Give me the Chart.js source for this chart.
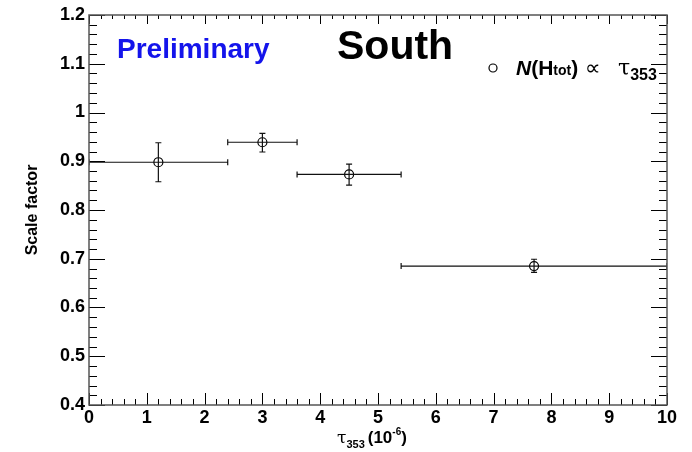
<!DOCTYPE html>
<html>
<head>
<meta charset="utf-8">
<script src="https://cdn.jsdelivr.net/npm/chart.js@4/dist/chart.umd.min.js"></script>
<style>
  html, body { margin: 0; padding: 0; background: #fff; }
  #wrap { width: 692px; height: 452px; }
</style>
</head>
<body>
<div id="wrap"><canvas id="chart" width="692" height="452"></canvas></div>
<script>
// tau_353 bins (units of 1e-6)
const binCenters = [1.2, 3.0, 4.5, 7.7];
const binLow = [0, 2.4, 3.6, 5.4];
const binHigh = [2.4, 3.6, 5.4, 10];
// scale factor with asymmetric errors
const scaleFactor = [0.898, 0.939, 0.873, 0.685];
const errUp = [0.040, 0.018, 0.021, 0.014];
const errDown = [0.040, 0.020, 0.022, 0.013];

const xTickValues = [0, 1, 2, 3, 4, 5, 6, 7, 8, 9, 10];
const yTickValues = [0.4, 0.5, 0.6, 0.7, 0.8, 0.9, 1.0, 1.1, 1.2];

const FONT = '"Liberation Sans", Arial, Helvetica, sans-serif';

// draws the ROOT-like frame with inward ticks on all four sides
const frameTicks = {
  id: 'frameTicks',
  afterDraw(chart) {
    const { ctx, chartArea: a, scales: { x, y } } = chart;
    ctx.save();
    ctx.strokeStyle = '#000';
    ctx.lineWidth = 1;
    ctx.beginPath();
    for (let i = 0; i <= 50; i++) {
      const v = i * 0.2;
      const px = Math.round(x.getPixelForValue(v)) + 0.5;
      const major = i % 5 === 0;
      ctx.moveTo(px, a.bottom); ctx.lineTo(px, a.bottom - (major ? 12 : 6));
      ctx.moveTo(px, a.top); ctx.lineTo(px, a.top + (major ? 9 : 4));
    }
    for (let i = 0; i <= 40; i++) {
      const v = 0.4 + i * 0.02;
      const py = Math.round(y.getPixelForValue(v)) + 0.5;
      const major = i % 5 === 0;
      ctx.moveTo(a.left, py); ctx.lineTo(a.left + (major ? 16 : 8), py);
      ctx.moveTo(a.right, py); ctx.lineTo(a.right - (major ? 16 : 8), py);
    }
    ctx.stroke();
    ctx.strokeStyle = '#555';
    ctx.lineWidth = 1.5;
    ctx.strokeRect(a.left, a.top, a.right - a.left, a.bottom - a.top);
    ctx.restore();
  }
};

// horizontal (bin width) and vertical (stat) error bars
const errorBars = {
  id: 'errorBars',
  afterDatasetsDraw(chart) {
    const { ctx, chartArea: a, scales: { x, y } } = chart;
    ctx.save();
    ctx.beginPath();
    ctx.rect(a.left, a.top, a.right - a.left, a.bottom - a.top);
    ctx.clip();
    ctx.strokeStyle = '#111';
    ctx.lineWidth = 1.2;
    binCenters.forEach((c, i) => {
      const py = y.getPixelForValue(scaleFactor[i]);
      const pxC = x.getPixelForValue(c);
      const pxL = x.getPixelForValue(binLow[i]);
      const pxR = x.getPixelForValue(binHigh[i]);
      const pyT = y.getPixelForValue(scaleFactor[i] + errUp[i]);
      const pyB = y.getPixelForValue(scaleFactor[i] - errDown[i]);
      ctx.beginPath();
      ctx.moveTo(pxL, py); ctx.lineTo(pxR, py);
      ctx.moveTo(pxL, py - 3); ctx.lineTo(pxL, py + 3);
      ctx.moveTo(pxR, py - 3); ctx.lineTo(pxR, py + 3);
      ctx.moveTo(pxC, pyT); ctx.lineTo(pxC, pyB);
      ctx.moveTo(pxC - 3, pyT); ctx.lineTo(pxC + 3, pyT);
      ctx.moveTo(pxC - 3, pyB); ctx.lineTo(pxC + 3, pyB);
      ctx.stroke();
    });
    ctx.restore();
  }
};

// titles, legend and axis labels with sub/superscripts
const labels = {
  id: 'labels',
  afterDraw(chart) {
    const { ctx, chartArea: a } = chart;
    ctx.save();
    ctx.textBaseline = 'alphabetic';
    ctx.textAlign = 'left';

    ctx.fillStyle = '#1414eb';
    ctx.font = `bold 28px ${FONT}`;
    ctx.fillText('Preliminary', 117, 58);

    ctx.fillStyle = '#000';
    ctx.font = `bold 41px ${FONT}`;
    ctx.fillText('South', 337, 59);

    // legend
    ctx.lineWidth = 1.2;
    ctx.strokeStyle = '#000';
    ctx.beginPath();
    ctx.arc(493, 68, 4, 0, Math.PI * 2);
    ctx.stroke();
    let tx = 516;
    const base = 75;
    const put = (t, font, dy = 0) => {
      ctx.font = font;
      ctx.fillText(t, tx, base + dy);
      tx += ctx.measureText(t).width;
    };
    put('N', `italic bold 21px ${FONT}`);
    put('(H', `bold 21px ${FONT}`);
    put('tot', `bold 14px ${FONT}`);
    put(')', `bold 21px ${FONT}`);
    tx = 585;
    put('\u221D', `22px "DejaVu Sans", ${FONT}`);
    tx = 618;
    put('\u03C4', `22px "DejaVu Serif", serif`);
    put('353', `bold 16px ${FONT}`, 5);

    // x axis title
    tx = 337;
    const xb = 443;
    const putX = (t, font, dy = 0) => {
      ctx.font = font;
      ctx.fillText(t, tx, xb + dy);
      tx += ctx.measureText(t).width;
    };
    putX('\u03C4', `17px "DejaVu Serif", serif`);
    putX('353', `bold 11px ${FONT}`, 5);
    tx += 3;
    putX('(10', `bold 17px ${FONT}`);
    putX('-6', `bold 10px ${FONT}`, -8);
    putX(')', `bold 17px ${FONT}`);

    // y axis title
    ctx.translate(37, (a.top + a.bottom) / 2);
    ctx.rotate(-Math.PI / 2);
    ctx.textAlign = 'center';
    ctx.font = `bold 16px ${FONT}`;
    ctx.fillText('Scale factor', 0, 0);
    ctx.restore();
  }
};

new Chart(document.getElementById('chart'), {
  type: 'scatter',
  data: {
    datasets: [{
      data: binCenters.map((c, i) => ({ x: c, y: scaleFactor[i] })),
      pointStyle: 'circle',
      pointRadius: 4.5,
      pointHoverRadius: 4.5,
      borderColor: '#000',
      borderWidth: 1.2,
      backgroundColor: 'rgba(0,0,0,0)'
    }]
  },
  options: {
    responsive: false,
    animation: false,
    events: [],
    layout: { padding: { left: 0, right: 25, top: 15, bottom: 0 } },
    plugins: { legend: { display: false }, tooltip: { enabled: false } },
    scales: {
      x: {
        type: 'linear',
        min: 0,
        max: 10,
        afterBuildTicks: s => { s.ticks = xTickValues.map(v => ({ value: v })); },
        afterFit: s => { s.height = 47; },
        grid: { display: false, drawTicks: false },
        border: { display: false },
        ticks: {
          padding: 2,
          color: '#000',
          font: { family: FONT, size: 18, weight: 'bold' },
          callback: v => String(v)
        }
      },
      y: {
        type: 'linear',
        min: 0.4,
        max: 1.2,
        afterBuildTicks: s => { s.ticks = yTickValues.map(v => ({ value: v })); },
        afterFit: s => { s.width = 89; },
        grid: { display: false, drawTicks: false },
        border: { display: false },
        ticks: {
          padding: 4,
          color: '#000',
          font: { family: FONT, size: 18, weight: 'bold' },
          callback: v => String(+Number(v).toFixed(1))
        }
      }
    }
  },
  plugins: [errorBars, frameTicks, labels]
});
</script>
</body>
</html>
